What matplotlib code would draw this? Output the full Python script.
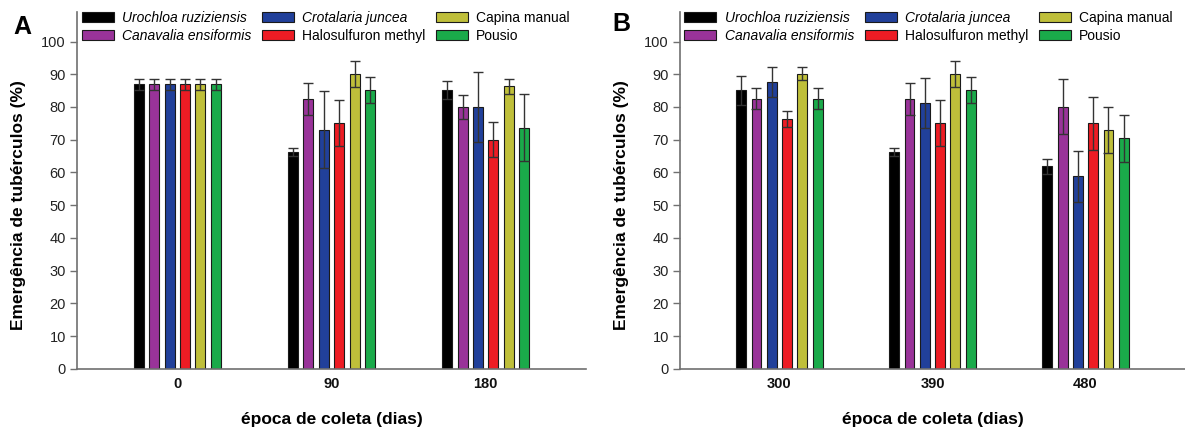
import matplotlib
matplotlib.use("Agg")
import matplotlib.pyplot as plt
import numpy as np
from matplotlib.patches import Patch

plt.rcParams['font.family'] = ['Liberation Sans', 'DejaVu Sans']

# ---- data ----
treatments = ["Urochloa ruziziensis", "Canavalia ensiformis", "Crotalaria juncea",
              "Halosulfuron methyl", "Capina manual", "Pousio"]
italic = [True, True, True, False, False, False]
colors = ["#000000", "#993399", "#21409A", "#ED1C24", "#BFBF3A", "#1AAA4A"]

days_A = ["0", "90", "180"]
days_B = ["300", "390", "480"]

# means per collection time (order of treatments)
A_0 = [87.0, 87.0, 87.0, 87.0, 87.0, 87.0]
A_90 = [66.3, 82.5, 73.1, 75.1, 90.1, 85.2]
A_180 = [85.1, 80.0, 80.0, 70.0, 86.3, 73.7]
B_300 = [85.1, 82.5, 87.7, 76.3, 90.1, 82.5]
B_390 = [66.3, 82.5, 81.3, 75.1, 90.1, 85.2]
B_480 = [61.9, 80.0, 58.8, 75.1, 73.0, 70.4]

# error bars
A_0_err = [1.7, 1.7, 1.7, 1.7, 1.7, 1.7]
A_90_err = [1.2, 4.8, 11.7, 7.0, 4.0, 3.9]
A_180_err = [2.8, 3.6, 10.8, 5.4, 2.4, 10.2]
B_300_err = [4.5, 3.2, 4.6, 2.4, 2.0, 3.2]
B_390_err = [1.2, 4.8, 7.7, 7.0, 4.0, 3.9]
B_480_err = [2.3, 8.4, 7.8, 8.1, 6.9, 7.3]

yticks = list(range(0, 101, 10))

fig = plt.figure(figsize=(11.85, 4.3), dpi=100)
axA = fig.add_axes([0.065, 0.142, 0.4295, 0.830])
axB = fig.add_axes([0.5738, 0.142, 0.4262, 0.830])

bar_w = 0.065
step = 0.1
spine_col = "#707070"


def draw(ax, labels, groups, errs, letter, lx, ly):
    x = np.arange(len(labels))
    means = np.array(groups)  # shape (n_groups, n_treat)
    e = np.array(errs)
    for i, (name, col) in enumerate(zip(treatments, colors)):
        xi = x + (i - 2.5) * step
        ax.bar(xi, means[:, i], width=bar_w, color=col, edgecolor="#1a1a1a",
               linewidth=0.8, zorder=2)
        ax.errorbar(xi, means[:, i], yerr=e[:, i], fmt="none", ecolor="#333333",
                    elinewidth=1.0, capsize=3.6, capthick=1.0, zorder=3)
    ax.set_xlim(-0.65, 2.65)
    ax.set_ylim(0, 109)
    ax.set_yticks(yticks)
    ax.set_xticks(x)
    ax.set_xticklabels(labels, fontweight="bold", fontsize=10.5)
    ax.tick_params(axis="x", length=0, pad=6, labelcolor="#111111")
    ax.tick_params(axis="y", length=5, width=1, color=spine_col, pad=3, labelsize=10.5,
                   labelcolor="#222222")
    for s in ["top", "right"]:
        ax.spines[s].set_visible(False)
    for s in ["left", "bottom"]:
        ax.spines[s].set_color(spine_col)
        ax.spines[s].set_linewidth(1.2)
    ax.set_ylabel("Emergência de tubérculos (%)", fontweight="bold", fontsize=12.5)
    ax.yaxis.set_label_coords(-0.100, 50 / 109)
    ax.set_xlabel("época de coleta (dias)", fontweight="bold", fontsize=12.5, labelpad=15)
    handles = [Patch(facecolor=c, edgecolor="#1a1a1a", linewidth=0.8) for c in colors]
    leg = ax.legend(handles, treatments, ncol=3, loc="upper left",
                    bbox_to_anchor=(0.009, 1.003), frameon=False, fontsize=10,
                    handlelength=2.3, handleheight=0.75, handletextpad=0.6,
                    columnspacing=0.75, labelspacing=0.3, borderpad=0,
                    borderaxespad=0)
    for t, it in zip(leg.get_texts(), italic):
        if it:
            t.set_fontstyle("italic")
    ax.text(lx, ly, letter, transform=ax.transAxes, fontsize=18,
            fontweight="bold", ha="center", va="center")


draw(axA, days_A, [A_0, A_90, A_180], [A_0_err, A_90_err, A_180_err], "A", -0.108, 0.958)
draw(axB, days_B, [B_300, B_390, B_480], [B_300_err, B_390_err, B_480_err], "B", -0.115, 0.966)

fig.savefig("out.png", dpi=100)
